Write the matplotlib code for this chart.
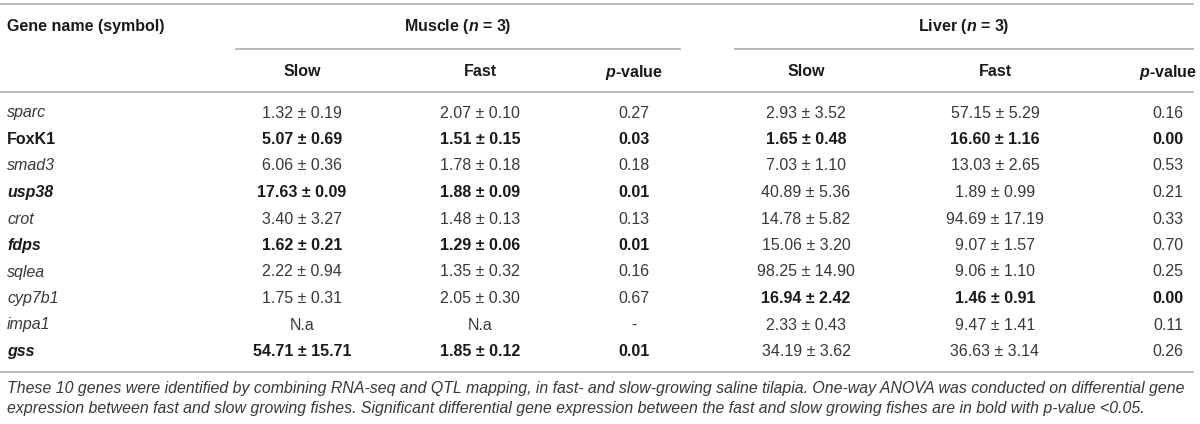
import matplotlib.pyplot as plt

plt.rcParams['font.family'] = ['Liberation Sans', 'DejaVu Sans']
plt.rcParams['mathtext.fontset'] = 'custom'
plt.rcParams['mathtext.it'] = 'Liberation Sans:italic:bold'
plt.rcParams['mathtext.rm'] = 'Liberation Sans:bold'

# table content
genes = ['sparc', 'FoxK1', 'smad3', 'usp38', 'crot', 'fdps', 'sqlea', 'cyp7b1', 'impa1', 'gss']
gene_style = ['italic', 'normal', 'italic', 'italic', 'italic', 'italic', 'italic', 'italic', 'italic', 'italic']
gene_bold = [False, True, False, True, False, True, False, False, False, True]

muscle_slow = ['1.32 ± 0.19', '5.07 ± 0.69', '6.06 ± 0.36', '17.63 ± 0.09', '3.40 ± 3.27',
               '1.62 ± 0.21', '2.22 ± 0.94', '1.75 ± 0.31', 'N.a', '54.71 ± 15.71']
muscle_fast = ['2.07 ± 0.10', '1.51 ± 0.15', '1.78 ± 0.18', '1.88 ± 0.09', '1.48 ± 0.13',
               '1.29 ± 0.06', '1.35 ± 0.32', '2.05 ± 0.30', 'N.a', '1.85 ± 0.12']
muscle_p = ['0.27', '0.03', '0.18', '0.01', '0.13', '0.01', '0.16', '0.67', '-', '0.01']
muscle_bold = [False, True, False, True, False, True, False, False, False, True]

liver_slow = ['2.93 ± 3.52', '1.65 ± 0.48', '7.03 ± 1.10', '40.89 ± 5.36', '14.78 ± 5.82',
              '15.06 ± 3.20', '98.25 ± 14.90', '16.94 ± 2.42', '2.33 ± 0.43', '34.19 ± 3.62']
liver_fast = ['57.15 ± 5.29', '16.60 ± 1.16', '13.03 ± 2.65', '1.89 ± 0.99', '94.69 ± 17.19',
              '9.07 ± 1.57', '9.06 ± 1.10', '1.46 ± 0.91', '9.47 ± 1.41', '36.63 ± 3.14']
liver_p = ['0.16', '0.00', '0.53', '0.21', '0.33', '0.70', '0.25', '0.00', '0.11', '0.26']
liver_bold = [False, True, False, False, False, False, False, True, False, False]

caption = ["These 10 genes were identified by combining RNA-seq and QTL mapping, in fast- and slow-growing saline tilapia. "
           "One-way ANOVA was conducted on differential gene",
           "expression between fast and slow growing fishes. Significant differential gene expression between the fast "
           "and slow growing fishes are in bold with p-value <0.05."]

W, H = 1200, 424
fig = plt.figure(figsize=(12, 4.24), dpi=100)
ax = fig.add_axes([0, 0, 1, 1])
ax.set_xlim(0, W)
ax.set_ylim(H, 0)
ax.axis('off')

txt = '#383838'
bold_c = '#1a1a1a'
line_c = '#aaaaaa'
fs = 11.5

# rules
ax.plot([0, 1193], [4, 4], color=line_c, lw=1.2)
ax.plot([236, 680], [49, 49], color=line_c, lw=1.2)
ax.plot([735, 1193], [49, 49], color=line_c, lw=1.2)
ax.plot([0, 1193], [92, 92], color=line_c, lw=1.2)
ax.plot([0, 1193], [372, 372], color=line_c, lw=1.2)

# headers
ax.text(7, 27, 'Gene name (symbol)', fontsize=fs, fontweight='bold', color=bold_c, va='center')
ax.text(458, 27, 'Muscle ($n$ = 3)', fontsize=fs, fontweight='bold', color=bold_c, va='center', ha='center')
ax.text(964, 27, 'Liver ($n$ = 3)', fontsize=fs, fontweight='bold', color=bold_c, va='center', ha='center')

cols = [302, 480, 634, 806, 995, 1168]
for x, lab in zip(cols, ['Slow', 'Fast', '$p$-value', 'Slow', 'Fast', '$p$-value']):
    ax.text(x, 72, lab, fontsize=fs, fontweight='bold', color=bold_c, va='center', ha='center')

# rows
for i, g in enumerate(genes):
    y = 113 + 26.5 * i
    ax.text(7, y, g, fontsize=fs, fontstyle=gene_style[i],
            fontweight='bold' if gene_bold[i] else 'normal',
            color=bold_c if gene_bold[i] else txt, va='center')
    for x, val, b in zip(cols[:3], [muscle_slow[i], muscle_fast[i], muscle_p[i]], [muscle_bold[i]] * 3):
        ax.text(x, y, val, fontsize=fs, fontweight='bold' if b else 'normal',
                color=bold_c if b else txt, va='center', ha='center')
    for x, val, b in zip(cols[3:], [liver_slow[i], liver_fast[i], liver_p[i]], [liver_bold[i]] * 3):
        ax.text(x, y, val, fontsize=fs, fontweight='bold' if b else 'normal',
                color=bold_c if b else txt, va='center', ha='center')

for k, line in enumerate(caption):
    ax.text(7, 389 + 20 * k, line, fontsize=11.45, fontstyle='italic', color=txt, va='center')

fig.savefig('out.png', dpi=100)
